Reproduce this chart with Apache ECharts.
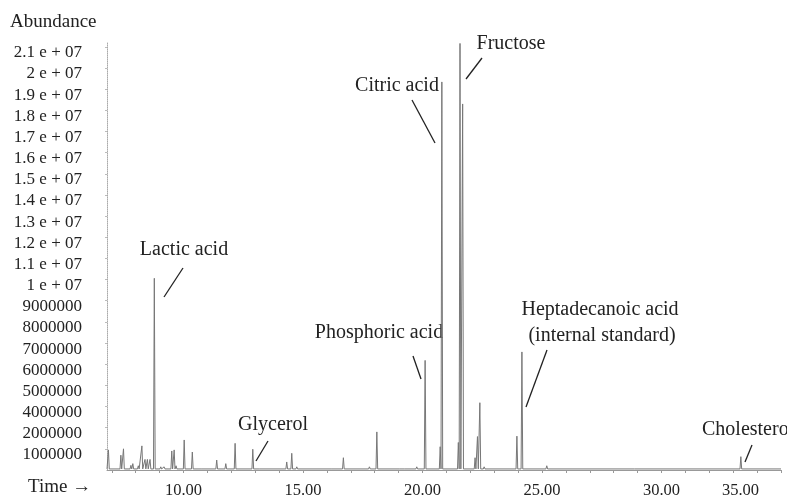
<!DOCTYPE html>
<html>
<head>
<meta charset="utf-8">
<script src="https://cdn.jsdelivr.net/npm/echarts@6/dist/echarts.min.js"></script>
<style>
  html, body { margin: 0; padding: 0; background: #fff; }
  #chart { width: 787px; height: 500px; }
</style>
</head>
<body>
<div id="chart"></div>
<script>
// retention time (min) of each peak apex
const peakTimes = [
  6.86, 7.38, 7.49, 7.80, 7.88, 8.11, 8.26, 8.39, 8.49, 8.60,
  8.78, 9.05, 9.19, 9.51, 9.61, 9.69, 10.03, 10.37, 10.77, 11.39,
  11.77, 12.16, 12.90, 13.23, 14.32, 14.53, 14.74, 16.21, 16.69, 17.78,
  18.09, 19.06, 19.27, 19.76, 20.11, 20.74, 20.81, 21.50, 21.57, 21.68,
  22.20, 22.30, 22.40, 22.58, 23.95, 24.16, 25.20, 28.90, 33.32
];
// apex height, in units of the printed abundance ticks
const peakHeights = [
  0.95, 0.70, 1.00, 0.22, 0.30, 0.20, 1.14, 0.50, 0.50, 0.50,
  9.06, 0.15, 0.15, 0.90, 0.95, 0.20, 1.42, 0.85, 0.10, 0.47,
  0.30, 1.26, 0.98, 0.10, 0.38, 0.79, 0.15, 0.10, 0.58, 0.15,
  1.80, 0.10, 0.10, 0.15, 5.18, 1.10, 18.34, 1.30, 20.16, 17.30,
  0.58, 1.58, 3.18, 0.15, 1.60, 5.58, 0.20, 0.08, 0.63
];
// y tick labels as printed in the source figure (bottom to top, no 3000000)
const yTickLabels = [
  '1000000', '2000000', '4000000', '5000000', '6000000', '7000000',
  '8000000', '9000000', '1 e + 07', '1.1 e + 07', '1.2 e + 07', '1.3 e + 07',
  '1.4 e + 07', '1.5 e + 07', '1.6 e + 07', '1.7 e + 07', '1.8 e + 07',
  '1.9 e + 07', '2 e + 07', '2.1 e + 07'
];
const xTickLabels = [10, 15, 20, 25, 30, 35];
const xMinorTicks = [7, 8, 9, 10, 11, 12, 13, 14, 15, 16, 17, 18, 19, 20, 21,
  22, 23, 24, 25, 26, 27, 28, 29, 30, 31, 32, 33, 34, 35];

const xMin = 6.8, xMax = 35;
const baseLevel = 0.05;
const halfWidth = 0.035;

const trace = [[xMin, baseLevel]];
peakTimes.forEach((t, i) => {
  trace.push([t - halfWidth, baseLevel], [t, peakHeights[i]], [t + halfWidth, baseLevel]);
});
trace.push([xMax, baseLevel]);

const FONT = '"Liberation Serif", "Times New Roman", serif';

// compound labels with leader lines (pixel layout)
const notes = [
  { text: 'Lactic acid', x: 184, y: 250, line: [183, 268, 164, 297] },
  { text: 'Glycerol', x: 273, y: 425, line: [268, 441, 256, 461] },
  { text: 'Phosphoric acid', x: 379, y: 333, line: [413, 356, 421, 379] },
  { text: 'Citric acid', x: 397, y: 86, line: [412, 100, 435, 143] },
  { text: 'Fructose', x: 511, y: 44, line: [482, 58, 466, 79] },
  { text: 'Heptadecanoic acid', x: 600, y: 310, line: [547, 350, 526, 407] },
  { text: '(internal standard)', x: 602, y: 336, line: null },
  { text: 'Cholesterol', x: 702, y: 430, line: [752, 445, 745, 462], align: 'left' }
];

const graphics = [
  { type: 'text', left: 10, top: 13, style: { text: 'Abundance', font: '19px ' + FONT, fill: '#222' } },
  { type: 'text', left: 28, top: 478, style: { text: 'Time \u2192', font: '19px ' + FONT, fill: '#222' } }
];
notes.forEach(n => {
  graphics.push({
    type: 'text', x: n.x, y: n.y,
    style: {
      text: n.text, font: '20px ' + FONT, fill: '#222',
      align: n.align || 'center', verticalAlign: 'middle'
    }
  });
  if (n.line) {
    graphics.push({
      type: 'line',
      shape: { x1: n.line[0], y1: n.line[1], x2: n.line[2], y2: n.line[3] },
      style: { stroke: '#222', lineWidth: 1.3 }
    });
  }
});

const chart = echarts.init(document.getElementById('chart'));
chart.setOption({
  animation: false,
  backgroundColor: '#fff',
  textStyle: { fontFamily: FONT },
  grid: { left: 107, right: 6, top: 43, bottom: 30 },
  xAxis: {
    type: 'value',
    min: xMin,
    max: xMax,
    splitLine: { show: false },
    axisLine: { lineStyle: { color: '#999', width: 1 } },
    axisTick: { customValues: xMinorTicks, length: 3, lineStyle: { color: '#999' } },
    axisLabel: {
      customValues: xTickLabels,
      formatter: v => v === xMax ? '{last|' + v.toFixed(2) + '}' : v.toFixed(2),
      color: '#222', fontSize: 16.5, margin: 12,
      alignMaxLabel: 'right',
      rich: { last: { fontSize: 16.5, color: '#222', padding: [0, 22, 0, 0] } }
    }
  },
  yAxis: {
    type: 'value',
    min: 0,
    max: 20.18,
    splitLine: { show: false },
    axisLine: { show: true, lineStyle: { color: '#aaa', type: 'dotted' } },
    axisTick: { show: true, customValues: yTickLabels.map((_, i) => i + 1), length: 2, lineStyle: { color: '#bbb' } },
    axisLabel: {
      customValues: yTickLabels.map((_, i) => i + 1),
      formatter: v => yTickLabels[Math.round(v) - 1] || '',
      color: '#222', fontSize: 17, margin: 25,
      verticalAlign: 'top', lineHeight: 12
    }
  },
  series: [{
    type: 'line',
    data: trace,
    showSymbol: false,
    lineStyle: { color: '#777', width: 1 },
    emphasis: { disabled: true }
  }],
  graphic: graphics
});
</script>
</body>
</html>
